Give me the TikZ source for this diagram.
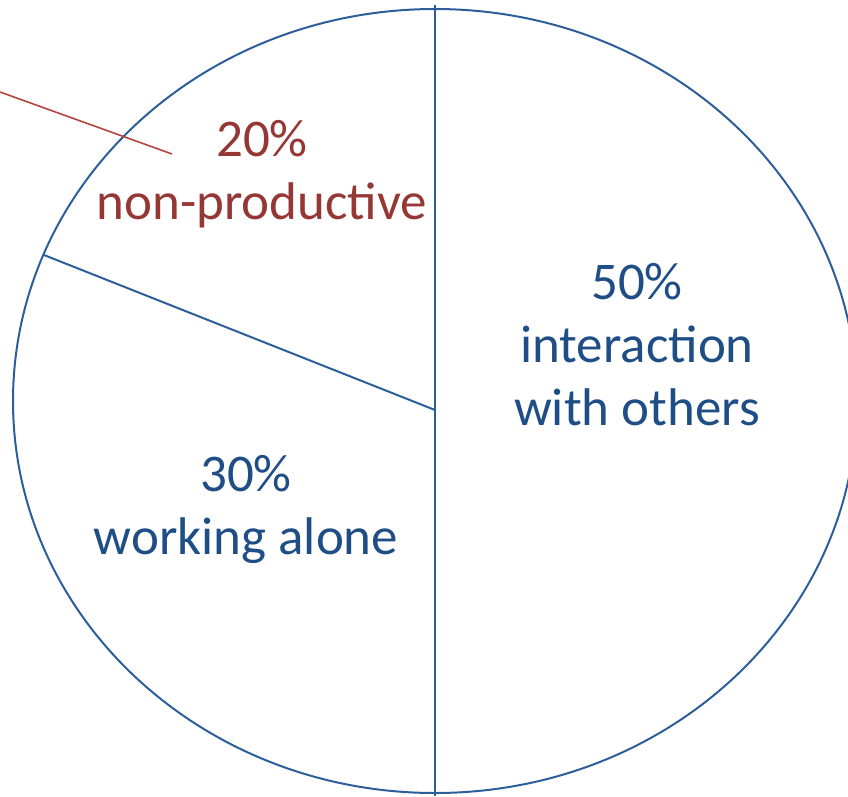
\documentclass[tikz,border=0pt]{standalone}
\usepackage{fontspec}
\setmainfont{Carlito}
\definecolor{pieblue}{HTML}{2C5F9A}
\definecolor{textblue}{HTML}{1F4E86}
\definecolor{textred}{HTML}{953735}
\definecolor{linered}{HTML}{B5443F}
\tikzset{
  pieline/.style={draw=pieblue, line width=2pt},
  leader/.style={draw=linered, line width=1.6pt},
  lbl/.style={inner sep=0pt, align=center, anchor=north, font=\fontsize{53}{63}\selectfont}
}
\begin{document}
\begin{tikzpicture}[x=1pt,y=-1pt]
\useasboundingbox (0,0) rectangle (848,796);
\clip (0,0) rectangle (848,796);
\draw[pieline] (435,401) ellipse [x radius=422, y radius=392];
\coordinate (ctr) at (435,410);
\coordinate (top) at (435,5);
\coordinate (bot) at (435,796);
\coordinate (lft) at (44,255);
\coordinate (r1) at (0,92);
\coordinate (r2) at (172,154);
\draw[pieline] (top) -- (bot);
\draw[pieline] (ctr) -- (lft);
\draw[leader] (r1) -- (r2);
\node[lbl, text=textblue] (a) at (637,263) {50\%\\interaction\\with others};
\node[lbl, text=textblue] (b) at (246,455) {30\%\\working alone};
\node[lbl, text=textred] (c) at (262,120) {20\%\\non-productive};
\end{tikzpicture}
\end{document}
